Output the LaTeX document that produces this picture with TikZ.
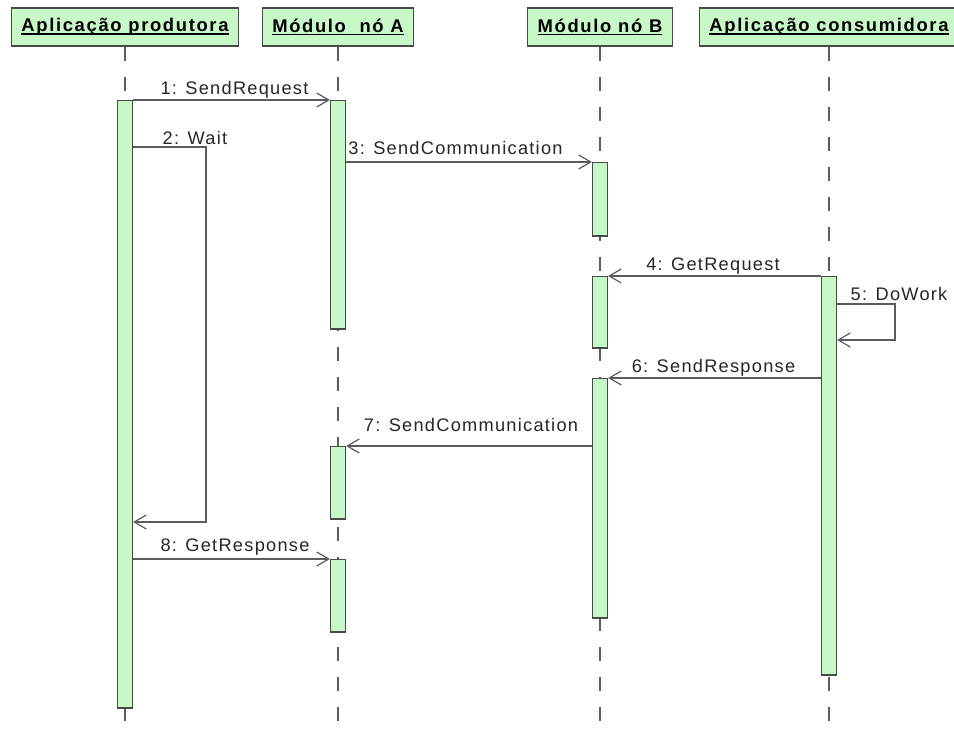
\documentclass[tikz,border=0pt]{standalone}
\usepackage{fontspec}
\setmainfont{Liberation Sans}
\newfontfamily\lblfont{Liberation Sans}[LetterSpace=7]
\newfontfamily\headfont{Liberation Sans}[LetterSpace=9]
\usetikzlibrary{arrows.meta}
\definecolor{umlgreen}{HTML}{C8F8C8}
\definecolor{umlline}{HTML}{5C5C5C}
\definecolor{umledge}{HTML}{4A4A4A}
\newcommand\ulhead[1]{\setbox0\hbox{#1}\rlap{\rule[-1.4pt]{\wd0}{0.7pt}}\box0}
\tikzset{
  header/.style={draw=umledge, fill=umlgreen, line width=0.6pt, minimum height=19pt,
    inner xsep=5pt, font=\fontsize{9.2}{11}\headfont\bfseries},
  lifeline/.style={draw=umlline, line width=0.6pt, dash pattern=on 7pt off 8pt},
  actbar/.style={draw=umledge, fill=umlgreen, line width=0.6pt, minimum width=7.5pt,
    anchor=north, inner sep=0pt},
  barfoot/.style={draw=umledge, line width=1.2pt},
  msg/.style={draw=umlline, line width=0.6pt, -{Straight Barb[length=6pt,width=7pt]}},
  lbl/.style={anchor=base, font=\fontsize{9.1}{11}\lblfont, text=black!85,
    inner sep=0pt, yshift=3pt},
}
\begin{document}
\begin{tikzpicture}[x=0.5pt, y=-0.5pt]
  \useasboundingbox (0,0) rectangle (954,732);
  % cabecalhos
  \node[header] (prod) at (125,27) {\ulhead{Aplicação produtora}};
  \node[header] (noA) at (338,27) {\ulhead{Módulo~ nó A}};
  \node[header] (noB) at (600,27) {\ulhead{Módulo nó B}};
  \node[header] (cons) at (829,27) {\ulhead{Aplicação consumidora}};
  % linhas de vida
  \coordinate (bottom) at (0,732);
  \foreach \n in {prod,noA,noB,cons}
    \draw[lifeline] (\n.south) -- (\n.south |- bottom);
  % barras de ativacao
  \foreach \n/\x/\a/\b in {barP/125/100/707, barA1/338/100/328, barA2/338/446/518,
      barA3/338/559/631, barB1/600/162/235, barB2/600/276/347, barB3/600/378/617,
      barC/829/276/674} {
    \pgfmathsetmacro{\h}{(\b-\a)/2}
    \node[actbar, minimum height=\h pt] (\n) at (\x,\a) {};
    \draw[barfoot] (\n.south west) -- (\n.south east);}
  % mensagens
  \draw[msg] (barP.north east) -- node[lbl, xshift=1.5pt, yshift=-0.5pt] {1: SendRequest} (barA1.north west);
  \coordinate (waitA) at (206,147);
  \coordinate (waitB) at (206,522);
  \draw[msg] (barP.east |- waitA) node[lbl, anchor=base west, xshift=14.5pt, yshift=-2pt] {2: Wait}
    -- (waitA) -- (waitB) -- (barP.east |- waitB);
  \draw[msg] (barA1.east |- barB1.north) -- node[lbl, xshift=-6.75pt, yshift=0.5pt] {3: SendCommunication} (barB1.north west);
  \draw[msg] (barC.north west) -- node[lbl, xshift=-0.75pt, yshift=-0.5pt] {4: GetRequest} (barB2.north east);
  \coordinate (workA) at (895,304);
  \coordinate (workB) at (895,340);
  \draw[msg] (barC.east |- workA) node[lbl, anchor=base west, xshift=6.5pt, yshift=-1.5pt] {5: DoWork}
    -- (workA) -- (workB) -- (barC.east |- workB);
  \draw[msg] (barC.west |- barB3.north) -- node[lbl, xshift=-0.5pt, yshift=-0.5pt] {6: SendResponse} (barB3.north east);
  \draw[msg] (barB3.west |- barA2.north) -- node[lbl, xshift=1pt, yshift=4pt] {7: SendCommunication} (barA2.north east);
  \draw[msg] (barP.east |- barA3.north) -- node[lbl, xshift=1.75pt, yshift=0.5pt] {8: GetResponse} (barA3.north west);
\end{tikzpicture}
\end{document}
